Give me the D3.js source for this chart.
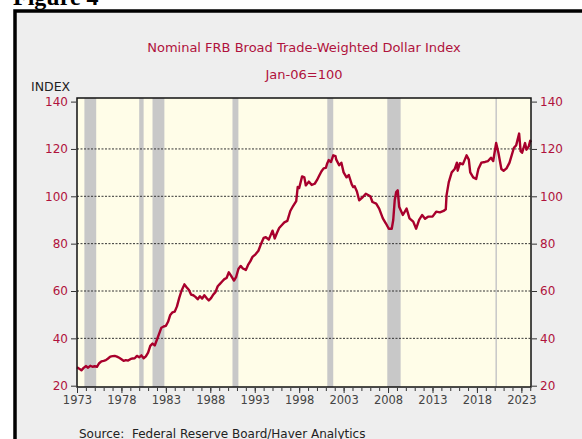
<!DOCTYPE html>
<html>
<head>
<meta charset="utf-8">
<script src="https://cdn.jsdelivr.net/npm/d3@7"></script>
<style>
  html, body { margin: 0; padding: 0; background: #ffffff; }
  svg { display: block; }
</style>
</head>
<body>
<script>
// Data
const months = [
  "1973-01","1973-04","1973-07","1973-10","1974-01","1974-04","1974-07","1974-10",
  "1975-01","1975-04","1975-07","1975-10","1976-01","1976-04","1976-07","1976-10",
  "1977-01","1977-04","1977-07","1977-10","1978-01","1978-04","1978-07","1978-10",
  "1979-01","1979-04","1979-07","1979-10","1980-01","1980-04","1980-07","1980-10",
  "1981-01","1981-04","1981-07","1981-10","1982-01","1982-04","1982-07","1982-10",
  "1983-01","1983-04","1983-07","1983-10","1984-01","1984-04","1984-07","1984-10",
  "1985-02","1985-05","1985-08","1985-11","1986-02","1986-05","1986-08","1986-11",
  "1987-02","1987-05","1987-08","1987-11","1988-02","1988-05","1988-08","1988-11",
  "1989-02","1989-05","1989-08","1989-11","1990-02","1990-05","1990-09","1990-12",
  "1991-03","1991-06","1991-09","1992-01","1992-04","1992-07","1992-10","1993-02",
  "1993-06","1993-09","1994-01","1994-04","1994-08","1995-01","1995-04","1995-07",
  "1995-10","1996-02","1996-05","1996-09","1997-01","1997-05","1997-09","1997-11",
  "1998-01","1998-05","1998-08","1998-10","1999-02","1999-06","1999-10","2000-01",
  "2000-04","2000-07","2000-10","2001-01","2001-03","2001-05","2001-08","2001-11",
  "2002-02","2002-03","2002-07","2002-10","2003-01","2003-05","2003-08","2003-12",
  "2004-02","2004-04","2004-07","2004-10","2005-03","2005-07","2006-01","2006-04",
  "2006-09","2007-01","2007-06","2007-10","2008-02","2008-06","2008-08","2008-10",
  "2008-12","2009-02","2009-04","2009-09","2010-02","2010-06","2010-11","2011-03",
  "2011-07","2011-11","2012-03","2012-07","2013-01","2013-06","2013-11","2014-04",
  "2014-07","2014-08","2014-11","2015-03","2015-07","2015-10","2015-11","2016-02",
  "2016-06","2016-11","2017-02","2017-04","2017-08","2017-12","2018-03","2018-07",
  "2018-12","2019-04","2019-08","2019-11","2020-03","2020-06","2020-10","2021-01",
  "2021-05","2021-09","2022-03","2022-06","2022-10","2022-12","2023-02","2023-06",
  "2023-08","2023-11","2024-01","2024-02"
];
const dollarIndex = [
  27.8, 27.2, 26.5, 27.5, 28.3, 27.6, 28.4, 28.0,
  28.2, 28.0, 29.5, 30.3, 30.5, 30.8, 31.5, 32.3,
  32.5, 32.6, 32.3, 31.8, 31.2, 30.5, 30.8, 30.6,
  31.2, 31.5, 31.6, 32.6, 32.0, 32.8, 31.6, 32.4,
  34.0, 36.8, 37.8, 37.0, 39.5, 42.0, 44.5, 45.0,
  45.3, 47.0, 49.9, 51.0, 51.3, 53.5, 57.0, 60.0,
  62.8, 61.6, 60.5, 58.5, 58.2, 57.5, 56.5, 57.8,
  56.8, 58.2, 57.0, 56.0, 57.0, 58.5, 59.5, 62.0,
  63.0, 64.0, 65.0, 65.5, 67.9, 66.5, 64.4, 66.0,
  69.3, 70.6, 69.5, 68.9, 71.0, 72.5, 74.4, 75.5,
  77.0, 79.5, 82.4, 82.7, 81.7, 85.5, 82.2, 84.5,
  86.6, 88.0, 89.0, 89.6, 93.8, 96.0, 98.0, 103.9,
  103.5, 108.4, 108.0, 104.6, 106.2, 104.8, 105.3, 106.8,
  108.7, 110.5, 111.8, 112.0, 114.0, 115.3, 114.5, 117.3,
  117.0, 115.6, 113.1, 114.2, 110.1, 108.0, 109.0, 105.0,
  103.9, 104.2, 102.0, 98.3, 99.7, 101.1, 100.0, 97.6,
  96.9, 94.8, 90.7, 88.6, 86.3, 86.3, 90.0, 98.3,
  101.8, 102.5, 95.6, 92.1, 94.8, 90.7, 89.3, 86.3,
  90.0, 92.1, 90.5, 91.4, 91.4, 93.5, 93.2, 93.8,
  94.5, 100.4, 106.0, 110.1, 111.5, 114.2, 110.8, 114.0,
  113.5, 117.3, 115.5, 110.1, 108.0, 107.3, 111.5, 114.2,
  114.5, 114.9, 116.3, 114.9, 122.5, 118.4, 111.5, 110.8,
  111.8, 114.2, 120.5, 121.5, 126.5, 119.1, 118.4, 122.5,
  119.7, 121.1, 123.5, 122.8
];
const recessionStarts = ["1973-11","1980-01","1981-07","1990-07","2001-03","2007-12","2020-02"];
const recessionEnds   = ["1975-03","1980-07","1982-11","1991-03","2001-11","2009-06","2020-04"];
const indexTicks = [20, 40, 60, 80, 100, 120, 140];
const yearLabels = [1973, 1978, 1983, 1988, 1993, 1998, 2003, 2008, 2013, 2018, 2023];

// Constants
const width = 582, height = 439;
const plot = { left: 77, right: 531, top: 98, bottom: 387 };
const crimson = "#b0123c";
const lineColour = "#a8002c";
const font = "'DejaVu Sans', Verdana, sans-serif";

const parseMonth = d3.timeParse("%Y-%m");
const data = months.map((m, i) => ({ date: parseMonth(m), value: dollarIndex[i] }));

const svg = d3.select("body").append("svg")
  .attr("width", width)
  .attr("height", height);

// Outer frame
svg.append("rect")
  .attr("x", 15).attr("y", 11)
  .attr("width", width + 10).attr("height", height + 10)
  .attr("fill", "#eeeeee")
  .attr("stroke", "#000")
  .attr("stroke-width", 3.5);

svg.append("text")
  .attr("x", 13).attr("y", 5)
  .attr("font-family", "'Liberation Serif', 'Times New Roman', serif")
  .attr("font-weight", "bold")
  .attr("font-size", 24)
  .attr("fill", "#000")
  .text("Figure 4");

// Scales
const x = d3.scaleTime()
  .domain([parseMonth("1973-01"), parseMonth("2024-02")])
  .range([plot.left, plot.right]);

// 20..140 sits slightly inside the plot box
const y = d3.scaleLinear()
  .domain([20, 140])
  .range([plot.bottom - 1.3, plot.top + 3.6]);

// Plot background
svg.append("rect")
  .attr("x", plot.left).attr("y", plot.top)
  .attr("width", plot.right - plot.left)
  .attr("height", plot.bottom - plot.top)
  .attr("fill", "#fffde8");

// Recession bands
svg.selectAll(".recession")
  .data(recessionStarts.map((s, i) => ({ start: parseMonth(s), end: parseMonth(recessionEnds[i]) })))
  .enter()
  .append("rect")
  .attr("class", "recession")
  .attr("x", d => x(d.start))
  .attr("y", plot.top)
  .attr("width", d => Math.max(1.5, x(d.end) - x(d.start)))
  .attr("height", plot.bottom - plot.top)
  .attr("fill", "#c8c8c8");

// Gridlines
svg.selectAll(".grid")
  .data(indexTicks.filter(t => t > 20 && t < 140))
  .enter()
  .append("line")
  .attr("class", "grid")
  .attr("x1", plot.left).attr("x2", plot.right)
  .attr("y1", d => y(d)).attr("y2", d => y(d))
  .attr("stroke", "#333")
  .attr("stroke-width", 1)
  .attr("stroke-dasharray", "2 1.5");

// Series line
svg.append("path")
  .datum(data)
  .attr("fill", "none")
  .attr("stroke", lineColour)
  .attr("stroke-width", 2.4)
  .attr("stroke-linejoin", "round")
  .attr("d", d3.line().x(d => x(d.date)).y(d => y(d.value)));

// Plot border
svg.append("rect")
  .attr("x", plot.left).attr("y", plot.top)
  .attr("width", plot.right - plot.left)
  .attr("height", plot.bottom - plot.top)
  .attr("fill", "none")
  .attr("stroke", "#111")
  .attr("stroke-width", 1.5);

// Left axis
const leftAxis = svg.append("g")
  .attr("transform", `translate(${plot.left - 1},0)`)
  .call(d3.axisLeft(y).tickValues(indexTicks).tickSize(5).tickPadding(3));
leftAxis.select(".domain").remove();
leftAxis.selectAll("line").attr("stroke", "#333");
leftAxis.selectAll("text")
  .attr("fill", crimson)
  .style("font-family", font)
  .style("font-size", "12px");

// Right axis
const rightAxis = svg.append("g")
  .attr("transform", `translate(${plot.right + 1},0)`)
  .call(d3.axisRight(y).tickValues(indexTicks).tickSize(5).tickPadding(3));
rightAxis.select(".domain").remove();
rightAxis.selectAll("line").attr("stroke", "#333");
rightAxis.selectAll("text")
  .attr("fill", crimson)
  .style("font-family", font)
  .style("font-size", "12px");

// Bottom axis: minor yearly ticks, major labelled ticks
const minorAxis = svg.append("g")
  .attr("transform", `translate(0,${plot.bottom + 1})`)
  .call(d3.axisBottom(x).ticks(d3.timeYear.every(1)).tickSize(3).tickFormat(""));
minorAxis.select(".domain").remove();
minorAxis.selectAll("line").attr("stroke", "#333");

const majorAxis = svg.append("g")
  .attr("transform", `translate(0,${plot.bottom + 1})`)
  .call(d3.axisBottom(x)
    .tickValues(yearLabels.map(yr => new Date(yr, 0, 1)))
    .tickSize(5).tickPadding(3)
    .tickFormat(d3.timeFormat("%Y")));
majorAxis.select(".domain").remove();
majorAxis.selectAll("line").attr("stroke", "#333");
majorAxis.selectAll("text")
  .attr("fill", "#444")
  .style("font-family", font)
  .style("font-size", "11.5px");

// Titles
svg.append("text")
  .attr("x", (plot.left + plot.right) / 2).attr("y", 52)
  .attr("text-anchor", "middle")
  .attr("fill", crimson)
  .style("font-family", font)
  .style("font-size", "13px")
  .text("Nominal FRB Broad Trade-Weighted Dollar Index");

svg.append("text")
  .attr("x", (plot.left + plot.right) / 2).attr("y", 79)
  .attr("text-anchor", "middle")
  .attr("fill", crimson)
  .style("font-family", font)
  .style("font-size", "13px")
  .text("Jan-06=100");

svg.append("text")
  .attr("x", 31).attr("y", 91)
  .attr("fill", "#222")
  .style("font-family", font)
  .style("font-size", "12.5px")
  .text("INDEX");

svg.append("text")
  .attr("x", 79).attr("y", 438)
  .attr("fill", "#222")
  .style("font-family", font)
  .style("font-size", "12px")
  .attr("xml:space", "preserve")
  .text("Source:  Federal Reserve Board/Haver Analytics");
</script>
</body>
</html>
